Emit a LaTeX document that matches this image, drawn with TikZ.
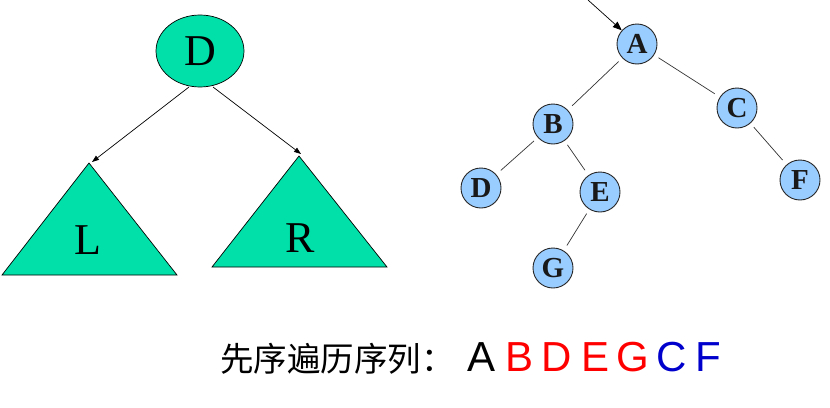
\documentclass[tikz,border=0pt]{standalone}
\usepackage{fontspec}
\setmainfont{Liberation Serif}
\newfontfamily\cjkfont{Noto Sans CJK SC}
\newfontfamily\sansf{Liberation Sans}
\usetikzlibrary{arrows.meta,shapes.geometric}
\definecolor{tgreen}{HTML}{00E0A8}
\definecolor{nblue}{HTML}{99CCFF}
\definecolor{tblue}{HTML}{0000CC}
\begin{document}
\begin{tikzpicture}[x=1pt,y=-1pt,
  tnode/.style={circle,draw=black!85,line width=0.9pt,fill=nblue,minimum size=40pt,inner sep=0pt,
    font=\fontsize{29}{29}\selectfont\bfseries,text=black!90},
  tedge/.style={draw=black!80,line width=0.7pt,shorten <=5pt,shorten >=6pt},
  arr/.style={draw=black,line width=0.7pt,-{Triangle[length=7pt,width=5pt]}},
  tri/.style={draw=black,line width=0.7pt,fill=tgreen},
  seql/.style={anchor=base,inner sep=0pt,font=\sansf\fontsize{42}{42}\selectfont}]
\useasboundingbox (0,0) rectangle (830,407);
% left schematic
\node[ellipse,draw=black,line width=0.7pt,fill=tgreen,minimum width=88pt,minimum height=72pt,inner sep=0pt,
  font=\fontsize{44}{44}\selectfont] (root) at (200,51) {D};
\coordinate (Ltop) at (89,163);
\coordinate (Rtop) at (299,156);
\path[tri] (Ltop) -- (177,275) -- (2,275) -- cycle;
\path[tri] (Rtop) -- (387,267) -- (212,267) -- cycle;
\node[font=\fontsize{44}{44}\selectfont] (L) at (88,240) {L};
\node[font=\fontsize{44}{44}\selectfont] (R) at (300,238) {R};
\coordinate (rl) at (189,87);
\coordinate (rr) at (213,87);
\coordinate (lt) at (92,162);
\coordinate (rt) at (301,154);
\draw[arr] (rl) -- (lt);
\draw[arr] (rr) -- (rt);
% right tree
\node[tnode] (A) at (637,44) {A};
\node[tnode] (B) at (553,124) {B};
\node[tnode] (C) at (737,108) {C};
\node[tnode] (D) at (481,188) {D};
\node[tnode] (E) at (600,192) {E};
\node[tnode] (F) at (800,180) {F};
\node[tnode] (G) at (553,268) {G};
\draw[tedge] (A) -- (B);
\draw[tedge] (A) -- (C);
\draw[tedge] (B) -- (D);
\draw[tedge] (B) -- (E);
\draw[tedge] (C) -- (F);
\draw[tedge] (E) -- (G);
\coordinate (in) at (588,0);
\draw[arr,-{Triangle[length=9pt,width=7pt]}] (in) -- (A);
% caption
\node[anchor=base west,inner sep=0pt,font=\cjkfont\fontsize{33.5}{33.5}\selectfont] (cap) at (220,371) {先序遍历序列：};
\node[seql] (s1) at (482,371) {A};
\node[seql,text=red] (s2) at (520,371) {B};
\node[seql,text=red] (s3) at (557,371) {D};
\node[seql,text=red] (s4) at (595,371) {E};
\node[seql,text=red] (s5) at (633,371) {G};
\node[seql,text=tblue] (s6) at (672,371) {C};
\node[seql,text=tblue] (s7) at (708,371) {F};
\end{tikzpicture}
\end{document}
